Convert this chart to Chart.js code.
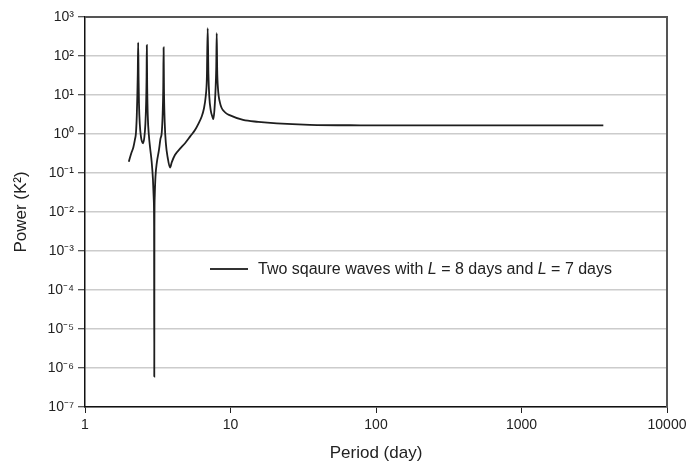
<!DOCTYPE html>
<html>
<head>
<meta charset="utf-8">
<script src="https://cdn.jsdelivr.net/npm/chart.js@4/dist/chart.umd.min.js"></script>
<style>
  body { margin: 0; background: #fff; }
  #wrap { position: relative; width: 695px; height: 474px; }
  #leyenda {
    position: absolute; left: 210px; top: 260px;
    font-family: "Liberation Sans", Arial, sans-serif; font-size: 16px; color: #222;
    white-space: nowrap;
  }
  #leyenda .muestra {
    display: inline-block; width: 38px; border-top: 2px solid #333;
    vertical-align: middle; margin-right: 10px; position: relative; top: -1px;
  }
</style>
</head>
<body>
<div id="wrap">
  <canvas id="grafico" width="695" height="474"></canvas>
  <div id="leyenda"><span class="muestra"></span>Two sqaure waves with <i>L</i> = 8 days and <i>L</i> = 7 days</div>
</div>
<script>
// Periodos (días) y potencia (K^2)
const periods = [
  2.00, 2.08, 2.15, 2.20, 2.24, 2.27, 2.29, 2.305, 2.32, 2.335, 2.35, 2.38, 2.42, 2.46, 2.51,
  2.56, 2.60, 2.63, 2.65, 2.66, 2.675, 2.70, 2.75, 2.80, 2.87, 2.93, 2.97, 2.985, 2.993,
  3.00, 3.015, 3.05, 3.12, 3.22, 3.30, 3.37, 3.42, 3.45, 3.47, 3.49, 3.53, 3.60, 3.70,
  3.84, 3.95, 4.15, 4.50, 4.87, 5.30, 5.70, 6.05, 6.34, 6.55, 6.75, 6.88, 6.97, 7.05,
  7.15, 7.32, 7.50, 7.62, 7.75, 7.88, 7.98, 8.04, 8.10, 8.20, 8.47, 9.16, 9.95, 12.2,
  15.5, 20.8, 35, 78, 200, 600, 1500, 3650
];
const powers = [
  0.195, 0.32, 0.46, 0.7, 1.07, 3, 10, 35, 220, 25, 6, 1.8, 0.9, 0.65, 0.58,
  0.85, 1.8, 6, 30, 190, 18, 3, 0.9, 0.45, 0.2, 0.07, 0.02, 0.004, 6e-7,
  0.004, 0.025, 0.08, 0.19, 0.38, 0.75, 1.1, 3.5, 15, 166, 14, 2, 0.55, 0.25,
  0.137, 0.19, 0.29, 0.42, 0.58, 0.88, 1.26, 1.9, 2.8, 4.3, 9, 28, 515, 35,
  9, 4, 2.8, 2.4, 4, 12, 50, 383, 45, 15, 6.3, 3.6, 3.0, 2.3,
  2.05, 1.87, 1.72, 1.67, 1.66, 1.66, 1.66, 1.66
];

// Marcas de los ejes
const xTicks = [1, 10, 100, 1000, 10000];
const yTicks = [1e-7, 1e-6, 1e-5, 1e-4, 1e-3, 1e-2, 1e-1, 1e0, 1e1, 1e2, 1e3];
const yTickLabels = ["10⁻⁷", "10⁻⁶", "10⁻⁵", "10⁻⁴", "10⁻³", "10⁻²", "10⁻¹", "10⁰", "10¹", "10²", "10³"];

const fuente = "'Liberation Sans', Arial, sans-serif";

// Marco gris arriba y a la derecha
const marco = {
  id: "marco",
  afterDatasetsDraw(chart) {
    const a = chart.chartArea;
    const ctx = chart.ctx;
    ctx.save();
    ctx.strokeStyle = "#555";
    ctx.lineWidth = 2;
    ctx.beginPath();
    ctx.moveTo(a.left, a.top);
    ctx.lineTo(a.right, a.top);
    ctx.lineTo(a.right, a.bottom);
    ctx.stroke();
    ctx.restore();
  }
};

const ctx = document.getElementById("grafico").getContext("2d");
new Chart(ctx, {
  type: "line",
  data: {
    datasets: [{
      label: "Two sqaure waves with L = 8 days and L = 7 days",
      data: periods.map((p, i) => ({ x: p, y: powers[i] })),
      borderColor: "#1e1e1e",
      borderWidth: 1.8,
      pointRadius: 0,
      cubicInterpolationMode: "monotone",
      fill: false
    }]
  },
  options: {
    responsive: false,
    animation: false,
    layout: { padding: { left: 0, right: 28, top: 17, bottom: 0 } },
    plugins: { legend: { display: false }, tooltip: { enabled: false } },
    scales: {
      x: {
        type: "logarithmic",
        min: 1,
        max: 10000,
        afterBuildTicks: (scale) => { scale.ticks = xTicks.map(v => ({ value: v })); },
        afterFit: (scale) => { scale.height = 67; },
        ticks: {
          callback: (v) => String(v),
          color: "#222",
          font: { family: fuente, size: 14 },
          padding: 4,
          maxRotation: 0,
          autoSkip: false
        },
        grid: { drawOnChartArea: false, drawTicks: true, tickLength: 6, tickColor: "#222", tickWidth: 1 },
        border: { color: "#111", width: 1.5 },
        title: { display: true, text: "Period (day)", color: "#222", font: { family: fuente, size: 17 }, padding: { top: 0, bottom: 10 } }
      },
      y: {
        type: "logarithmic",
        min: 1e-7,
        max: 1e3,
        afterBuildTicks: (scale) => { scale.ticks = yTicks.map(v => ({ value: v })); },
        afterFit: (scale) => { scale.width = 85; },
        ticks: {
          callback: (v) => yTickLabels[yTicks.indexOf(v)],
          color: "#222",
          font: { family: fuente, size: 14 },
          padding: 4,
          autoSkip: false
        },
        grid: { color: "#cccccc", lineWidth: 1.5, drawTicks: true, tickLength: 7, tickColor: "#222", tickWidth: 1 },
        border: { color: "#111", width: 1.5 },
        title: { display: true, text: "Power (K²)", color: "#222", font: { family: fuente, size: 17 }, padding: { top: 11, bottom: 0 } }
      }
    }
  },
  plugins: [marco]
});
</script>
</body>
</html>
